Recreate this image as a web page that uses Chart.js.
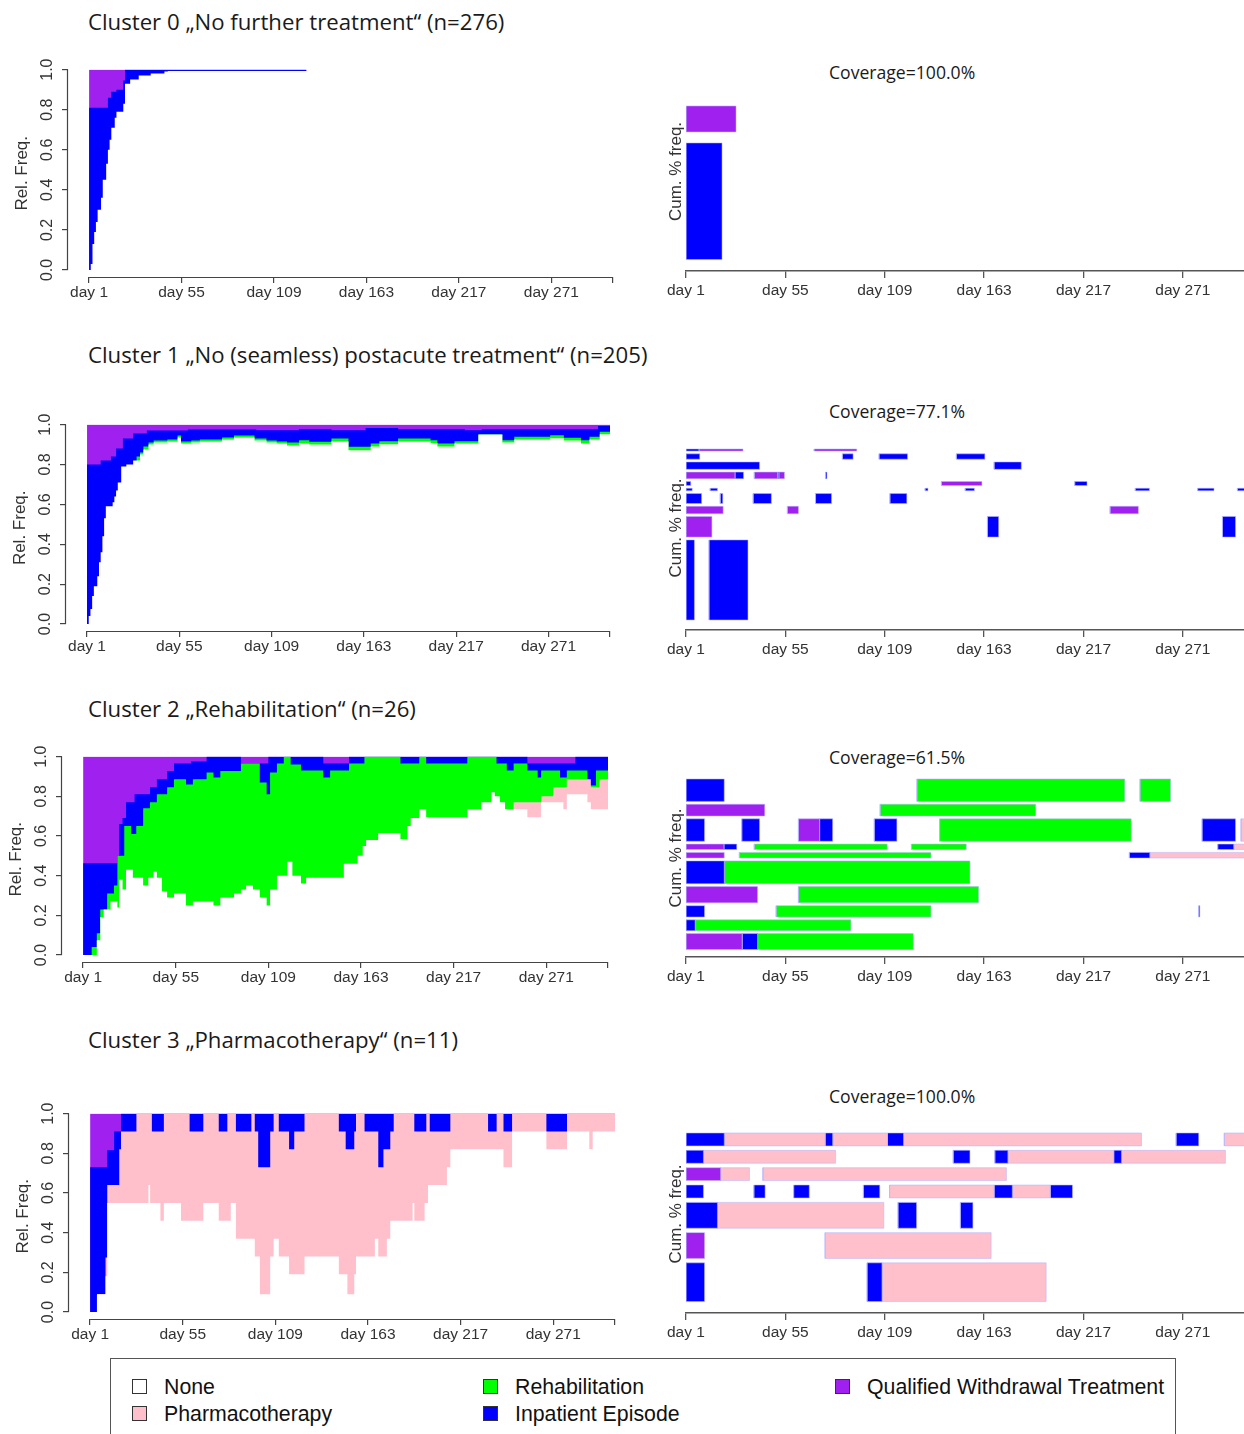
<!DOCTYPE html>
<html>
<head>
<meta charset="utf-8">
<title>Cluster sequence plots</title>
<script src="https://cdn.jsdelivr.net/npm/chart.js@4.4.1/dist/chart.umd.min.js"></script>
<style>
  html, body { margin: 0; padding: 0; width: 1244px; height: 1434px; overflow: hidden; background: #fff; }
  canvas { position: absolute; }
  .title { position: absolute; left: 88px; font-family: "Open Sans", "Noto Sans", sans-serif; font-size: 22.2px; line-height: 28px; color: #1a1a1a; white-space: nowrap; }
  .cov { position: absolute; left: 829px; font-family: "Open Sans", "Noto Sans", sans-serif; font-size: 17.6px; line-height: 20px; color: #1a1a1a; white-space: nowrap; }
  #legend { position: absolute; left: 110px; top: 1358px; width: 1064px; height: 120px; border: 1.5px solid #555; }
  .sw { position: absolute; width: 13px; height: 13px; border: 1px solid #333; }
  .lab { position: absolute; font-family: "Liberation Sans", Arial, sans-serif; font-size: 21.3px; line-height: 24px; color: #111; white-space: nowrap; }
</style>
</head>
<body>

<div class="title" style="top:8px">Cluster 0 „No further treatment“ (n=276)</div>
<div class="title" style="top:341px">Cluster 1 „No (seamless) postacute treatment“ (n=205)</div>
<div class="title" style="top:695px">Cluster 2 „Rehabilitation“ (n=26)</div>
<div class="title" style="top:1026px">Cluster 3 „Pharmacotherapy“ (n=11)</div>

<div class="cov" style="top:62px">Coverage=100.0%</div>
<div class="cov" style="top:401px">Coverage=77.1%</div>
<div class="cov" style="top:747px">Coverage=61.5%</div>
<div class="cov" style="top:1086px">Coverage=100.0%</div>

<div id="legend">
  <div class="sw" style="left:21px; top:20px; background:#ffffff"></div>
  <div class="lab" style="left:53px; top:16px">None</div>
  <div class="sw" style="left:21px; top:47px; background:#ffc0cb"></div>
  <div class="lab" style="left:53px; top:43px">Pharmacotherapy</div>
  <div class="sw" style="left:372px; top:20px; background:#00ff00"></div>
  <div class="lab" style="left:404px; top:16px">Rehabilitation</div>
  <div class="sw" style="left:372px; top:47px; background:#0000ff"></div>
  <div class="lab" style="left:404px; top:43px">Inpatient Episode</div>
  <div class="sw" style="left:724px; top:20px; background:#a020f0"></div>
  <div class="lab" style="left:756px; top:16px">Qualified Withdrawal Treatment</div>
</div>

<script>
// ---- data -------------------------------------------------------------
// x-axis tick days
const dayTicks = [1, 55, 109, 163, 217, 271];
const lastDay = 307;

// state distribution plots: upper boundary of each state, [start day, cumulative share]
const c0None   = [[1,0],[2,0.03],[3,0.13],[4,0.19],[5,0.24],[6,0.30],[8,0.36],[9,0.45],[11,0.53],[12,0.60],[13,0.65],[14,0.71],[16,0.76],[17,0.79],[21,0.83],[22,0.93],[25,0.95],[30,0.97],[37,0.98],[45,0.99],[47,0.993]];
const c0Inpat  = [[1,0.81],[12,0.86],[14,0.89],[17,0.90],[21,0.945],[22,1.0]];
const c0Qwt    = [[1,1.0]];
const c0End    = 128;

const c1None   = [[1,0],[2,0.04],[3,0.075],[4,0.14],[5,0.19],[7,0.24],[8,0.31],[9,0.36],[10,0.44],[11,0.53],[12,0.59],[16,0.61],[17,0.64],[18,0.67],[19,0.71],[21,0.79],[24,0.80],[28,0.82],[32,0.85],[34,0.875],[37,0.9],[40,0.91],[48,0.915],[54,0.935],[56,0.905],[62,0.91],[67,0.915],[80,0.925],[87,0.935],[99,0.92],[106,0.91],[112,0.905],[118,0.895],[125,0.905],[131,0.9],[144,0.915],[154,0.872],[167,0.89],[172,0.902],[183,0.915],[202,0.908],[206,0.89],[216,0.905],[230,0.95],[244,0.91],[251,0.925],[272,0.932],[280,0.92],[290,0.905],[295,0.925],[301,0.952]];
const c1Rehab  = [[1,0],[30,0.84],[32,0.86],[34,0.89],[37,0.91],[40,0.92],[48,0.925],[54,0.945],[56,0.915],[62,0.92],[67,0.925],[80,0.935],[87,0.945],[99,0.93],[106,0.92],[112,0.915],[118,0.91],[125,0.922],[131,0.914],[144,0.93],[154,0.889],[167,0.905],[172,0.917],[183,0.93],[202,0.922],[206,0.905],[216,0.917],[230,0.95],[244,0.922],[251,0.939],[272,0.947],[280,0.934],[290,0.922],[295,0.939],[301,0.964]];
const c1Inpat  = [[1,0.80],[9,0.82],[15,0.84],[18,0.88],[22,0.93],[28,0.955],[36,0.97],[60,0.975],[100,0.972],[125,0.977],[144,0.972],[164,0.983],[183,0.977],[222,0.972],[232,0.977],[300,0.993]];
const c1Qwt    = [[1,1.0]];

const c2None   = [[1,0],[9,0.075],[11,0.19],[13,0.23],[17,0.27],[21,0.24],[22,0.38],[24,0.33],[26,0.43],[30,0.39],[36,0.35],[39,0.39],[42,0.42],[44,0.39],[47,0.32],[50,0.29],[54,0.31],[61,0.25],[65,0.27],[77,0.25],[81,0.29],[89,0.31],[93,0.33],[96,0.35],[100,0.33],[104,0.29],[108,0.25],[110,0.33],[114,0.40],[120,0.47],[123,0.40],[128,0.36],[131,0.39],[153,0.46],[161,0.5],[164,0.55],[166,0.58],[173,0.615],[186,0.585],[190,0.65],[192,0.69],[197,0.735],[201,0.695],[225,0.735],[233,0.77],[239,0.82],[241,0.8],[244,0.77],[247,0.735],[260,0.695],[268,0.77],[281,0.735],[283,0.81],[295,0.77],[297,0.735]];
const c2Pharma = [[1,0],[252,0.77],[268,0.80],[275,0.845],[283,0.886],[297,0.845],[302,0.886]];
const c2Rehab  = [[1,0],[6,0.04],[9,0.11],[11,0.23],[15,0.31],[19,0.35],[21,0.50],[25,0.65],[29,0.61],[32,0.65],[36,0.74],[40,0.77],[44,0.81],[50,0.845],[54,0.886],[61,0.86],[65,0.886],[73,0.92],[77,0.895],[81,0.928],[93,0.965],[104,0.87],[108,0.81],[110,0.92],[114,0.965],[118,1.0],[122,0.96],[128,0.93],[141,0.895],[145,0.93],[156,0.965],[165,1.0],[186,0.965],[197,1.0],[201,0.965],[225,1.0],[242,0.965],[248,0.93],[252,0.965],[260,0.93],[266,0.895],[268,0.93],[279,0.895],[283,0.93],[295,0.855],[300,0.93]];
const c2Inpat  = [[1,0.463],[21,0.50],[22,0.66],[24,0.69],[26,0.77],[31,0.81],[40,0.845],[44,0.886],[50,0.928],[54,0.965],[64,0.975],[73,1.0],[93,0.965],[109,1.0],[141,0.965],[156,1.0],[260,0.965],[288,1.0]];
const c2Qwt    = [[1,1.0]];

const c3None   = [[1,0],[5,0.09],[10,0.18],[11,0.55],[35,0.64],[36,0.55],[42,0.46],[44,0.55],[54,0.46],[67,0.55],[76,0.46],[83,0.55],[86,0.37],[97,0.28],[100,0.09],[106,0.28],[108,0.37],[111,0.28],[117,0.19],[126,0.28],[146,0.19],[151,0.09],[155,0.19],[156,0.28],[167,0.37],[169,0.28],[174,0.37],[176,0.46],[189,0.55],[190,0.46],[196,0.55],[198,0.64],[209,0.73],[211,0.82],[242,0.73],[247,0.91],[267,0.82],[279,0.91],[292,0.82],[294,0.91]];
const c3Pharma = [[1,0],[5,0.09],[10,0.275],[11,0.64],[18,0.82],[19,0.91],[28,1.0],[37,0.91],[44,1.0],[59,0.91],[67,1.0],[76,0.91],[81,1.0],[86,0.91],[95,1.0],[97,0.91],[99,0.73],[106,0.91],[108,1.0],[111,0.91],[117,0.82],[120,0.91],[126,1.0],[146,0.91],[150,0.82],[155,0.91],[156,1.0],[161,0.91],[169,0.73],[172,0.82],[176,0.91],[178,1.0],[190,0.91],[197,1.0],[199,0.91],[211,1.0],[233,0.91],[238,1.0],[242,0.91],[247,1.0],[267,0.91],[279,1.0]];
const c3Inpat  = [[1,0.73],[11,0.815],[15,0.91],[19,1.0]];
const c3Qwt    = [[1,1.0]];

// sequence frequency plots: row frequency (%) bottom to top, and the state spells of each row [state, from day, to day]
const c0Freq = [81.8, 18.2];
const c0Rows = [
  [['I',1,20.6]],
  [['Q',1,28.2]]
];

const c1Freq = [42.4, 10.9, 3.9, 5.3, 1.3, 2.1, 3.5, 3.9, 2.8, 1.1];
const c1Rows = [
  [['I',1,5.6],['I',13.5,34.7]],
  [['Q',1,15.1],['I',164.8,170.9],['I',292.5,299.6]],
  [['Q',1,21.2],['Q',56.1,62.1],['Q',231.4,246.8]],
  [['I',1,9.5],['I',19.6,21],['I',37.5,47.4],['I',71.4,80.1],['I',111.8,121]],
  [['I',1,4.4],['I',14.1,18.1],['I',130.9,132.5],['I',152.7,157.7],['I',245.1,252.8],['I',279,287.9],['I',300.6,310]],
  [['I',1,3.6],['Q',139.8,161.8],['I',212.2,218.9]],
  [['Q',1,27.6],['I',27.6,32.3],['Q',38.1,50.8],['I',50.8,51.4],['Q',51.4,54.5],['I',76.8,77.6]],
  [['I',1,41],['I',168.4,183.2]],
  [['I',1,8.5],['I',86,91.8],['I',105.9,121.4],['I',147.9,163.4]],
  [['I',1,8],['Q',8,32],['Q',70.6,93.8]]
];

const c2Freq = [6.8, 4.6, 4.8, 6.9, 9.7, 2.4, 2.3, 9.5, 5.0, 9.5];
const c2Rows = [
  [['Q',1,31.5],['I',31.5,39.9],['R',39.9,124.5]],
  [['I',1,6],['R',6,90.6]],
  [['I',1,11.1],['R',50,134.1],['I',279.6,280.2]],
  [['Q',1,39.9],['R',62.1,160]],
  [['I',1,21.8],['R',21.8,155.3]],
  [['Q',1,21.8],['R',30,134.1],['I',241.9,253],['P',253,310]],
  [['Q',1,21.6],['I',21.6,28.6],['R',38.1,110.3],['R',123.5,153.3],['I',289.9,298.6],['P',298.6,310]],
  [['I',1,11.1],['I',31.3,41],['Q',62.1,73.6],['I',73.6,80.7],['I',103.3,115.6],['R',138.8,242.9],['I',281.4,299.6],['P',302.6,310]],
  [['Q',1,43.8],['R',106.5,191]],
  [['I',1,21.8],['R',126.5,239.4],['R',247.7,264.3]]
];

const c3Freq = [27.27, 18.18, 18.18, 9.09, 9.09, 9.09, 9.09];
const c3Rows = [
  [['I',1,11.1],['I',99.4,107.5],['P',107.5,196.7]],
  [['Q',1,11.1],['P',76.6,166.8]],
  [['I',1,18.1],['P',18.1,108.5],['I',116.2,126.3],['I',150.1,156.9]],
  [['I',1,10.5],['I',37.9,44],['I',59.5,68],['I',97.4,106.3],['P',111.6,168.4],['I',168.4,178.3],['P',178.3,198.9],['I',198.9,211]],
  [['Q',1,19.8],['P',19.8,35.5],['P',42.8,175.1]],
  [['I',1,10.5],['P',10.5,82.3],['I',146.2,155.3],['I',168.8,175.9],['P',175.9,233.4],['I',233.4,237.6],['P',237.6,294.1]],
  [['I',1,21.8],['P',21.8,76.6],['I',76.6,80.7],['P',80.7,110.5],['I',110.5,119.2],['P',119.2,248.5],['I',267.3,279.6],['P',293.5,310]]
];

// ---- drawing ----------------------------------------------------------
const COLORS = { N: '#ffffff', P: '#ffc0cb', R: '#00ff00', I: '#0000ff', Q: '#a020f0' };
const INK = '#333333';
const FAMILY = "'Liberation Sans', Arial, sans-serif";
const xTickFont = { family: FAMILY, size: 15.5 };
const yTickFont = { family: FAMILY, size: 16 };
const titleFont = { family: FAMILY, size: 17 };

Chart.defaults.font.family = FAMILY;

function makeCanvas(left, top, width, height) {
  const c = document.createElement('canvas');
  c.width = width;
  c.height = height;
  c.style.left = left + 'px';
  c.style.top = top + 'px';
  c.style.width = width + 'px';
  c.style.height = height + 'px';
  document.body.appendChild(c);
  return c;
}

function stepData(pairs, end) {
  const pts = pairs.map(p => ({ x: p[0], y: p[1] }));
  pts.push({ x: end, y: pairs[pairs.length - 1][1] });
  return pts;
}

// R style axis lines: only between first and last tick
const rAxes = {
  id: 'rAxes',
  afterDraw(chart) {
    const { ctx, chartArea, scales } = chart;
    ctx.save();
    ctx.strokeStyle = '#444';
    ctx.lineWidth = 1.2;
    ctx.beginPath();
    ctx.moveTo(scales.x.getPixelForValue(1), chartArea.bottom + 0.5);
    ctx.lineTo(scales.x.getPixelForValue(lastDay), chartArea.bottom + 0.5);
    ctx.moveTo(chartArea.left - 0.5, scales.y.getPixelForValue(0));
    ctx.lineTo(chartArea.left - 0.5, scales.y.getPixelForValue(1));
    ctx.stroke();
    ctx.restore();
  }
};

function distPlot(box, layers, end) {
  const padTop = 12, xAxisH = 30;
  const canvas = makeCanvas(0, box.top - padTop, box.right + 4, box.bottom - box.top + padTop + xAxisH);

  // first dataset is drawn last, so the lowest state sits on top of the others;
  // the white "None" layer runs one day longer to hide the anti-aliased seam where data ends
  const datasets = layers.map(([state, pairs]) => ({
    data: stepData(pairs, state === 'N' && end < lastDay ? end + 1 : end),
    backgroundColor: COLORS[state],
    borderWidth: 0,
    pointRadius: 0,
    stepped: true,
    fill: { value: 0 }
  }));

  new Chart(canvas, {
    type: 'line',
    data: { datasets },
    options: {
      responsive: false,
      animation: false,
      devicePixelRatio: 1,
      events: [],
      layout: { padding: { top: padTop, right: 4, left: 0, bottom: 0 } },
      plugins: { legend: { display: false }, tooltip: { enabled: false } },
      scales: {
        x: {
          type: 'linear',
          min: -11.3,
          max: lastDay,
          afterBuildTicks: s => { s.ticks = dayTicks.concat([lastDay]).map(v => ({ value: v })); },
          afterFit: s => { s.height = xAxisH; },
          ticks: {
            autoSkip: false, maxRotation: 0, minRotation: 0, padding: 0,
            color: INK, font: xTickFont,
            callback: v => (v === lastDay ? '' : 'day ' + v)
          },
          grid: { display: true, drawOnChartArea: false, drawTicks: true, tickLength: 6, color: '#444', lineWidth: 1.2 },
          border: { display: false }
        },
        y: {
          min: -0.035,
          max: 1,
          afterBuildTicks: s => { s.ticks = [0, 0.2, 0.4, 0.6, 0.8, 1].map(v => ({ value: v })); },
          afterFit: s => { s.width = box.left; },
          ticks: {
            minRotation: 90, maxRotation: 90, crossAlign: 'center', padding: 3,
            color: INK, font: yTickFont,
            callback: v => v.toFixed(1)
          },
          grid: { display: true, drawOnChartArea: false, drawTicks: true, tickLength: 6, color: '#444', lineWidth: 1.2 },
          border: { display: false },
          title: {
            display: true, text: 'Rel. Freq.', color: INK, font: titleFont,
            padding: { top: box.left - 56, bottom: 0 }
          }
        }
      }
    },
    plugins: [rAxes]
  });
}

function freqPlot(box, freqs, rows, gap, pad) {
  const padTop = 4, xAxisH = 36, yAxisW = 20;
  const canvas = makeCanvas(box.left - yAxisW, box.top - padTop,
    box.right - box.left + yAxisW + 4, box.bottom - box.top + padTop + xAxisH);

  const datasets = [];
  let base = 0;
  rows.forEach((spells, i) => {
    const lo = base, hi = base + freqs[i];
    spells.forEach(([state, from, to]) => {
      datasets.push({
        data: [{ x: from, y: lo }, { x: to, y: lo }, { x: to, y: hi }, { x: from, y: hi }, { x: from, y: lo }],
        backgroundColor: COLORS[state],
        borderColor: 'rgba(180,180,255,0.55)',
        borderWidth: 1,
        pointRadius: 0,
        fill: 'shape'
      });
    });
    base = hi + gap;
  });
  const barsTop = base - gap;
  // the plot region reaches above the top bar (up to the coverage line)
  const perPx = (barsTop + pad) / (box.bottom - box.barsTop);
  const yMax = barsTop + (box.barsTop - box.top) * perPx;

  new Chart(canvas, {
    type: 'line',
    data: { datasets },
    options: {
      responsive: false,
      animation: false,
      devicePixelRatio: 1,
      events: [],
      layout: { padding: { top: padTop, right: 4, left: 0, bottom: 0 } },
      plugins: { legend: { display: false }, tooltip: { enabled: false } },
      scales: {
        x: {
          type: 'linear',
          min: 1,
          max: 308,
          afterBuildTicks: s => { s.ticks = dayTicks.map(v => ({ value: v })); },
          afterFit: s => { s.height = xAxisH; },
          ticks: {
            autoSkip: false, maxRotation: 0, minRotation: 0, padding: 3,
            color: INK, font: xTickFont,
            callback: v => 'day ' + v
          },
          grid: { display: true, drawOnChartArea: false, drawTicks: true, tickLength: 7, color: '#555', lineWidth: 1.3 },
          border: { display: true, color: '#555', width: 1.6 }
        },
        y: {
          min: -pad,
          max: yMax,
          afterFit: s => { s.width = yAxisW; },
          ticks: { display: false },
          grid: { display: false },
          border: { display: false },
          title: { display: true, text: 'Cum. % freq.', color: INK, font: titleFont, padding: { top: 0, bottom: 0 } }
        }
      }
    }
  });
}

// left column: state distributions
distPlot({ left: 68, top: 69, bottom: 277, right: 613 },
  [['N', c0None], ['I', c0Inpat], ['Q', c0Qwt]], c0End);
distPlot({ left: 66, top: 424, bottom: 631, right: 610 },
  [['N', c1None], ['R', c1Rehab], ['I', c1Inpat], ['Q', c1Qwt]], lastDay);
distPlot({ left: 62, top: 756, bottom: 962, right: 608 },
  [['N', c2None], ['P', c2Pharma], ['R', c2Rehab], ['I', c2Inpat], ['Q', c2Qwt]], lastDay);
distPlot({ left: 69, top: 1113, bottom: 1319, right: 615 },
  [['N', c3None], ['P', c3Pharma], ['I', c3Inpat], ['Q', c3Qwt]], lastDay);

// right column: sequence frequencies
freqPlot({ left: 684, top: 72, barsTop: 106, bottom: 271, right: 1251 }, c0Freq, c0Rows, 7.7, 8.0);
freqPlot({ left: 684, top: 426, barsTop: 449, bottom: 630, right: 1251 }, c1Freq, c1Rows, 1.48, 5.3);
freqPlot({ left: 684, top: 759, barsTop: 779, bottom: 957, right: 1251 }, c2Freq, c2Rows, 1.21, 3.15);
freqPlot({ left: 684, top: 1115, barsTop: 1133, bottom: 1313, right: 1251 }, c3Freq, c3Rows, 3.14, 8.07);
</script>
</body>
</html>
